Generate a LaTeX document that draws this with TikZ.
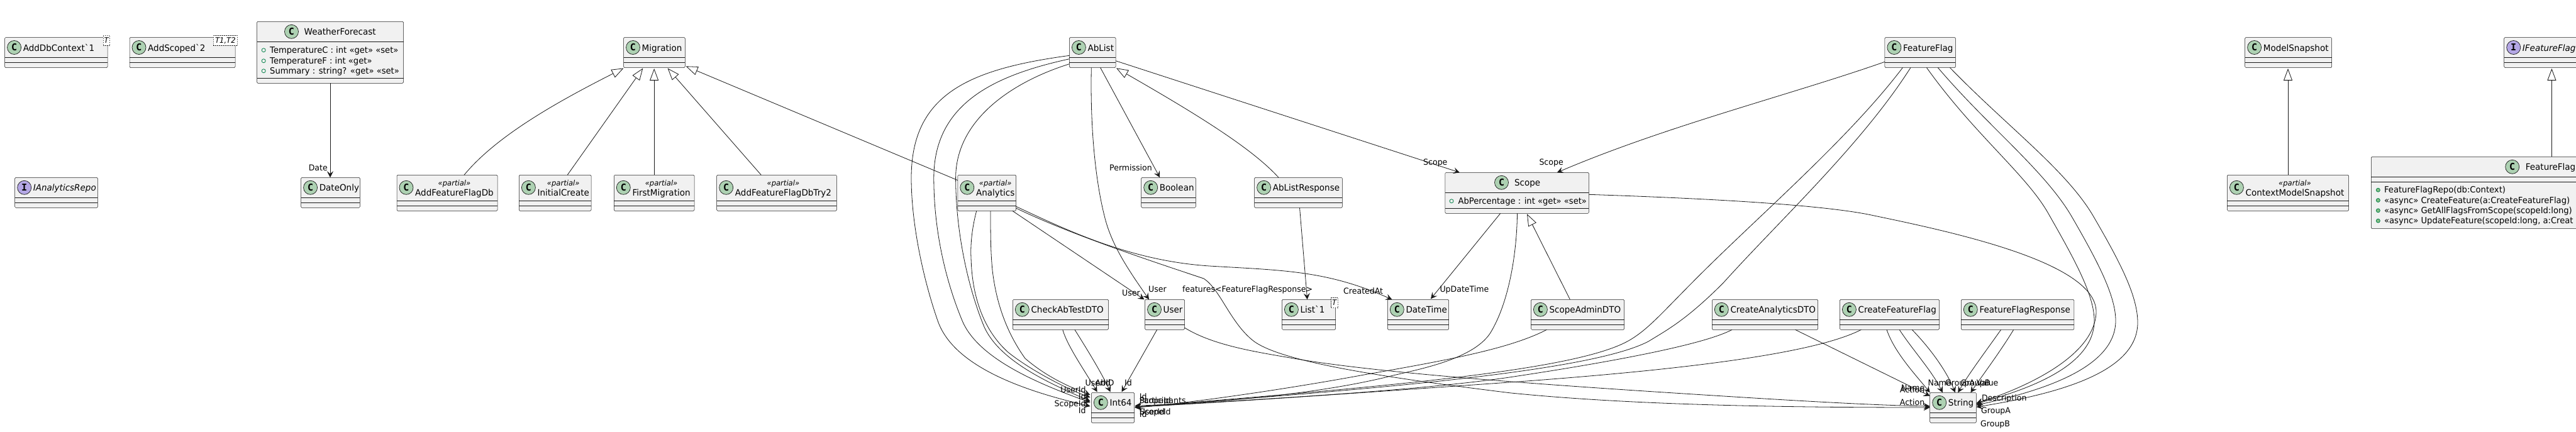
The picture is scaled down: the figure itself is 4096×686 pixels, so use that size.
\documentclass[tikz,border=0pt]{standalone}
\usepackage{fontspec}
\setmainfont{DejaVu Sans}[Ligatures=TeXOff,FakeStretch=0.965]
\newfontfamily\iconfont{DejaVu Sans Mono}
\usetikzlibrary{arrows.meta}
\definecolor{boxfill}{HTML}{F1F1F1}
\definecolor{inkline}{HTML}{181818}
\definecolor{iconclass}{HTML}{ADD1B2}
\definecolor{iconiface}{HTML}{B4A7E5}
\definecolor{markline}{HTML}{038048}
\definecolor{markfill}{HTML}{84BE84}
\tikzset{
  classbody/.style={rectangle, draw=inkline, fill=boxfill, line width=0.5pt, rounded corners=1.5pt, inner sep=0pt, outer sep=0pt},
  classsep/.style={draw=inkline, line width=0.5pt},
  classicon/.style={circle, draw=inkline, fill=iconclass, line width=0.7pt, minimum size=22pt, inner sep=0pt, font=\iconfont\bfseries\fontsize{15}{15}\selectfont},
  ifaceicon/.style={classicon, fill=iconiface},
  classtitle/.style={anchor=base west, inner sep=0pt, font=\fontsize{14}{16}\selectfont},
  stereo/.style={anchor=base, inner sep=0pt, font=\itshape\fontsize{12}{14}\selectfont},
  tagbox/.style={rectangle, draw=inkline, fill=white, line width=0.5pt, dash pattern=on 1.5pt off 1.5pt, inner sep=0pt, font=\itshape\fontsize{12}{14}\selectfont},
  fieldmark/.style={circle, draw=markline, line width=0.8pt, minimum size=6pt, inner sep=0pt},
  methodmark/.style={fieldmark, fill=markfill},
  membertext/.style={anchor=base west, inner sep=0pt, font=\fontsize{13.6}{16}\selectfont},
  edgelabel/.style={inner sep=0pt, text height=10pt, text depth=3pt, font=\fontsize{13}{15}\selectfont},
  rel/.style={draw=inkline, line width=0.8pt, -{Stealth[length=10pt,width=10pt,inset=4pt]}},
  inherit/.style={draw=inkline, line width=0.8pt, -{Triangle[length=19pt,width=14pt,fill=white]}}
}
% id, left, top, right, bottom, first rule, second rule
\newcommand{\classbox}[7]{
  \node[classbody, minimum width={(#4-#2)*1pt}, minimum height={(#5-#3)*1pt}] (#1) at ({(#2+#4)/2},{(#3+#5)/2}) {};
  \draw[classsep] (#2,#6) -- (#4,#6);
  \draw[classsep] (#2,#7) -- (#4,#7);
}
% id, left, top, right, title
\newcommand{\plainclass}[5]{
  \classbox{#1}{#2}{#3}{#4}{#3+48}{#3+32}{#3+40}
  \node[classicon] (#1-icon) at ([shift={(15,16)}]#1.north west) {C};
  \node[classtitle] (#1-title) at ([shift={(29,21.5)}]#1.north west) {#5};
}
\newcommand{\ifaceclass}[5]{
  \classbox{#1}{#2}{#3}{#4}{#3+48}{#3+32}{#3+40}
  \node[ifaceicon] (#1-icon) at ([shift={(15,16)}]#1.north west) {I};
  \node[classtitle] (#1-title) at ([shift={(29,21.5)}]#1.north west) {\itshape #5};
}
\newcommand{\partialclass}[5]{
  \classbox{#1}{#2}{#3}{#4}{#3+57}{#3+41}{#3+49}
  \node[classicon] (#1-icon) at ([shift={(15,20)}]#1.north west) {C};
  \node[classtitle] (#1-title) at ([shift={(29,33)}]#1.north west) {#5};
  \node[stereo] (#1-stereo) at ([yshift=16pt]#1-title.base) {«partial»};
}
% style, id, owner, mark x, text x, baseline, text
\newcommand{\member}[7]{
  \node[#1] (#2-mark) at ([shift={(#4,#6-4.5)}]#3.north west) {};
  \node[membertext] (#2) at ([shift={(#5,#6)}]#3.north west) {#7};
}
% id, left, top, right, bottom, text
\newcommand{\typetag}[6]{
  \node[tagbox, minimum width={(#4-#2)*1pt}, minimum height={(#5-#3)*1pt}] (#1) at ({(#2+#4)/2},{(#3+#5)/2}) {#6};
}

\begin{document}
\begin{tikzpicture}[x=1pt,y=-1pt]
  \clip (0,0) rectangle (4096,686);

  % Top row
  \plainclass{AddDbContext}{7.6}{59.5}{171}{AddDbContext`1}
  \typetag{AddDbContext-tag}{164}{56.3}{174.5}{72.7}{T}
  \plainclass{AddScoped}{206}{59.5}{374}{AddScoped`2}
  \typetag{AddScoped-tag}{339}{56.3}{377.7}{72.7}{T1,T2}
  \plainclass{Migration}{991.5}{59.5}{1089.3}{Migration}
  \plainclass{AbList}{1700.4}{59.5}{1774}{AbList}
  \plainclass{FeatureFlag}{2996.9}{59.5}{3109.4}{FeatureFlag}
  \plainclass{ModelSnapshot}{3569.6}{59.5}{3707.6}{ModelSnapshot}
  \ifaceclass{IFeatureFlag}{3981.7}{59.5}{4133.1}{IFeatureFlag}

  % Boxes with members
  \classbox{WeatherForecast}{408.5}{34.3}{641.5}{132.3}{66.3}{124.3}
  \node[classicon] (WeatherForecast-icon) at ([shift={(55,16)}]WeatherForecast.north west) {C};
  \node[classtitle] (WeatherForecast-title) at ([shift={(75,21.5)}]WeatherForecast.north west) {WeatherForecast};
  \member{fieldmark}{wf-c}{WeatherForecast}{10.7}{20.5}{50}{TemperatureC : int «get» «set»}
  \member{fieldmark}{wf-f}{WeatherForecast}{10.7}{20.5}{67}{TemperatureF : int «get»}
  \member{fieldmark}{wf-s}{WeatherForecast}{10.7}{20.5}{83}{Summary : string? «get» «set»}

  \classbox{Scope}{2297.8}{274.3}{2526.3}{339.3}{306.3}{331.3}
  \node[classicon] (Scope-icon) at ([shift={(89.7,16)}]Scope.north west) {C};
  \node[classtitle] (Scope-title) at ([shift={(110,21.5)}]Scope.north west) {Scope};
  \member{fieldmark}{scope-ab}{Scope}{10.2}{20.5}{50}{AbPercentage : int «get» «set»}

  \classbox{FeatureFlagRepo}{3770.3}{249.3}{4344.5}{363.6}{281.3}{289.3}
  \node[classicon] (FeatureFlagRepo-icon) at ([shift={(224.4,16)}]FeatureFlagRepo.north west) {C};
  \node[classtitle] (FeatureFlagRepo-title) at ([shift={(245.3,21.5)}]FeatureFlagRepo.north west) {FeatureFlag};
  \member{methodmark}{repo-new}{FeatureFlagRepo}{11}{20.6}{57.4}{FeatureFlagRepo(db:Context)}
  \member{methodmark}{repo-create}{FeatureFlagRepo}{11}{20.6}{73.7}{«async» CreateFeature(a:CreateFeatureFlag)}
  \member{methodmark}{repo-all}{FeatureFlagRepo}{11}{20.6}{90}{«async» GetAllFlagsFromScope(scopeId:long)}
  \member{methodmark}{repo-update}{FeatureFlagRepo}{11}{20.6}{106.3}{«async» UpdateFeature(scopeId:long, a:Creat}

  % Second row
  \ifaceclass{IAnalyticsRepo}{23.7}{282.3}{155.4}{IAnalyticsRepo}
  \plainclass{DateOnly}{478.6}{282.3}{572.3}{DateOnly}
  \partialclass{AddFeatureFlagDb}{631}{278.3}{791}{AddFeatureFlagDb}
  \partialclass{InitialCreate}{825.4}{278.3}{940}{InitialCreate}
  \partialclass{FirstMigration}{976.3}{278.3}{1104}{FirstMigration}
  \partialclass{AddFeatureFlagDbTry}{1139.7}{278.3}{1330.4}{AddFeatureFlagDbTry2}
  \partialclass{Analytics}{1522.8}{278.3}{1615.6}{Analytics}
  \plainclass{Boolean}{1814.7}{282.3}{1901.3}{Boolean}
  \plainclass{AbListResponse}{1994.6}{282.3}{2134.4}{AbListResponse}
  \partialclass{ContextModelSnapshot}{3541.4}{278.3}{3734.6}{ContextModelSnapshot}

  % Third row
  \plainclass{CheckAbTestDTO}{1610.3}{476.3}{1762.5}{CheckAbTestDTO}
  \plainclass{User}{1820.5}{476.3}{1883.5}{User}
  \plainclass{List}{2038.4}{476.3}{2123.7}{List`1}
  \typetag{List-tag}{2116.5}{473.3}{2126.8}{489.7}{T}
  \plainclass{DateTime}{2206.3}{476.3}{2303.6}{DateTime}
  \plainclass{ScopeAdminDTO}{2434.4}{476.3}{2582.6}{ScopeAdminDTO}
  \plainclass{CreateAnalyticsDTO}{2722.3}{476.3}{2890.6}{CreateAnalyticsDTO}
  \plainclass{CreateFeatureFlag}{2925.4}{476.3}{3083.5}{CreateFeatureFlag}
  \plainclass{FeatureFlagResponse}{3118.3}{476.3}{3297.8}{FeatureFlagResponse}

  % Bottom row
  \plainclass{Int}{1735.3}{624.3}{1803.6}{Int64}
  \plainclass{String}{3068.7}{624.3}{3142.4}{String}

  % Inheritance
  \draw[inherit] ([xshift=107pt]AddFeatureFlagDb.north west) .. controls (790,215) and (890,160) .. ([yshift=-1pt]Migration.south west);
  \draw[inherit] ([xshift=76.8pt]InitialCreate.north west) -- ([shift={(30.8,49)}]Migration.north west);
  \draw[inherit] (FirstMigration.north) -- ([yshift=-1.5pt]FirstMigration.north |- Migration.south);
  \draw[inherit] ([xshift=70.6pt]AddFeatureFlagDbTry.north west) -- ([shift={(70.1,49)}]Migration.north west);
  \draw[inherit] ([shift={(0,8.4)}]Analytics.north west) -- ([shift={(99.1,45.8)}]Migration.north west);
  \draw[inherit] ([xshift=38.4pt]AbListResponse.north west) .. controls (1990,235) and (1900,180) .. ([shift={(74.6,48.8)}]AbList.north west);
  \draw[inherit] ([xshift=62pt]ScopeAdminDTO.north west) -- ([shift={(130.2,66)}]Scope.north west);
  \draw[inherit] (ContextModelSnapshot.north) -- ([yshift=-1.5pt]ContextModelSnapshot.north |- ModelSnapshot.south);
  \draw[inherit] (FeatureFlagRepo.north) -- ([yshift=-1.5pt]FeatureFlagRepo.north |- IFeatureFlag.south);

  % Simple references
  \draw[rel] (WeatherForecast.south) -- (WeatherForecast.south |- DateOnly.north);
  \draw[rel] ([shift={(49.2,48)}]AbList.north west) -- ([xshift=29.5pt]Boolean.north west);
  \draw[rel] ([shift={(73.6,37.2)}]AbList.north west) -- ([xshift=23.2pt]Scope.north west);
  \draw[rel] ([shift={(0,38.8)}]FeatureFlag.north west) .. controls (2850,150) and (2650,200) .. ([xshift=178.1pt]Scope.north west);
  \draw[rel] ([shift={(34.9,48)}]AbList.north west) .. controls (1733,220) and (1745,300) .. (1756,343) .. controls (1767,390) and (1795,430) .. ([xshift=6.5pt]User.north west);
  \draw[rel] ([shift={(87,57)}]Analytics.north west) -- ([xshift=-1pt]User.north west);
  \draw[rel] ([shift={(71.9,48)}]AbListResponse.north west) -- ([xshift=40.2pt]List.north west);
  \draw[rel] ([shift={(92.8,50)}]Analytics.north west) .. controls (1700,368) and (1800,415) .. (1923,423) .. controls (2040,430) and (2110,430) .. ([xshift=7.1pt]DateTime.north west);
  \draw[rel] ([shift={(87.9,65)}]Scope.north west) -- ([shift={(68.7,-1)}]DateTime.north west);

  % To Int64, from the left
  \draw[rel] ([shift={(0,28.8)}]AbList.north west) .. controls (1540,110) and (1449,150) .. (1449,283) .. controls (1449,360) and (1470,450) .. (1491,510) .. controls (1515,580) and (1620,620) .. ([shift={(-1.8,21.7)}]Int.north west);
  \draw[rel] ([shift={(0,34.2)}]AbList.north west) .. controls (1580,120) and (1484.8,165) .. (1484.8,283) .. controls (1484.8,370) and (1505,450) .. (1530,510) .. controls (1555,570) and (1650,610) .. ([shift={(-1.8,15.7)}]Int.north west);
  \draw[rel] ([shift={(0,42.2)}]AbList.north west) .. controls (1610,130) and (1519.6,190) .. (1519.6,283) .. controls (1519.6,370) and (1540,460) .. (1565,520) .. controls (1590,575) and (1670,610) .. ([shift={(-1.8,13.7)}]Int.north west);
  \draw[rel] ([shift={(29.9,57)}]Analytics.north west) .. controls (1545,365) and (1543,390) .. (1544,410) .. controls (1546,490) and (1575,535) .. (1602.7,560) .. controls (1640,590) and (1700,620) .. ([shift={(-1.8,7.7)}]Int.north west);
  \draw[rel] ([shift={(52.2,57)}]Analytics.north west) .. controls (1575,370) and (1575,400) .. (1578,430) .. controls (1585,490) and (1605,535) .. (1630,570) .. controls (1665,600) and (1700,615) .. ([shift={(-1.8,3.7)}]Int.north west);

  % To Int64, from above
  \draw[rel] ([shift={(79.4,48)}]CheckAbTestDTO.north west) .. controls (1697,550) and (1725,590) .. ([shift={(9.3,-1)}]Int.north west);
  \draw[rel] ([shift={(98.6,48)}]CheckAbTestDTO.north west) .. controls (1725,550) and (1750,590) .. ([shift={(30.3,-1)}]Int.north west);
  \draw[rel] ([shift={(19.2,48)}]User.north west) -- ([shift={(48.2,-1)}]Int.north west);

  % To Int64, from the right
  \draw[rel] ([shift={(114.7,65)}]Scope.north west) .. controls (2412,400) and (2400,480) .. (2369.6,529.7) .. controls (2340,575) and (2240,590) .. (2204.5,599.7) .. controls (2100,625) and (1950,640) .. ([shift={(1,21)}]Int.north east);
  \draw[rel] ([shift={(25,48)}]ScopeAdminDTO.north west) .. controls (2400,555) and (2300,573) .. (2169,596) .. controls (2050,618) and (1900,640) .. ([shift={(1,24)}]Int.north east);
  \draw[rel] ([shift={(28.5,48)}]FeatureFlag.north west) .. controls (2940,220) and (2800,340) .. (2700,440) .. controls (2640,500) and (2620,525) .. (2587.5,543) .. controls (2500,590) and (2200,615) .. ([shift={(1,23)}]Int.north east);
  \draw[rel] ([shift={(41.1,48)}]FeatureFlag.north west) .. controls (2960,230) and (2830,350) .. (2740,450) .. controls (2680,510) and (2650,525) .. (2621,543) .. controls (2530,590) and (2200,618) .. ([shift={(1,23)}]Int.north east);
  \draw[rel] ([shift={(31.7,48)}]CreateAnalyticsDTO.north west) .. controls (2700,553) and (2500,585) .. (2400,600) .. controls (2250,622) and (2000,635) .. ([shift={(1,23)}]Int.north east);
  \draw[rel] ([shift={(34,48)}]CreateFeatureFlag.north west) .. controls (2880,565) and (2650,590) .. (2400,608) .. controls (2200,622) and (1980,638) .. ([shift={(1,23)}]Int.north east);

  % To String, from the left
  \draw[rel] ([shift={(92.8,52.7)}]Analytics.north west) .. controls (1700,372) and (1830,415) .. (1914,443) .. controls (1940,460) and (1955,510) .. (1990,539.7) .. controls (2030,575) and (2200,600) .. (2400,624.7) .. controls (2600,645) and (2850,648) .. ([yshift=-23.7pt]String.north west);
  \draw[rel] ([shift={(63,44.8)}]User.north west) .. controls (1930,550) and (2000,560) .. (2057,570) .. controls (2200,595) and (2500,615) .. (2757,631) .. controls (2900,640) and (3000,645) .. ([yshift=-21.7pt]String.north west);
  \draw[rel] ([shift={(132.2,48)}]CreateAnalyticsDTO.north west) -- ([yshift=-5.4pt]String.north west);

  % To String, from above
  \draw[rel] ([shift={(74.6,48)}]CreateFeatureFlag.north west) .. controls (3012,560) and (3045,595) .. (String.north west);
  \draw[rel] ([shift={(94.8,48)}]CreateFeatureFlag.north west) .. controls (3040,555) and (3072,590) .. ([xshift=20.1pt]String.north west);
  \draw[rel] ([shift={(114.9,48)}]CreateFeatureFlag.north west) .. controls (3070,555) and (3095,590) .. ([xshift=40.2pt]String.north west);
  \draw[rel] ([shift={(63.3,48)}]FeatureFlagResponse.north west) .. controls (3160,555) and (3130,595) .. ([xshift=44.6pt]String.north west);
  \draw[rel] ([shift={(83.4,48)}]FeatureFlagResponse.north west) .. controls (3180,560) and (3150,600) .. ([xshift=64.7pt]String.north west);

  % To String, from the right
  \draw[rel] ([shift={(66.5,48)}]FeatureFlag.north west) .. controls (3140,215) and (3225,280) .. (3258.9,343) .. controls (3300,415) and (3330,470) .. (3330,510) .. controls (3330,590) and (3200,625) .. ([yshift=-18pt]String.north east);
  \draw[rel] ([shift={(84.4,48)}]FeatureFlag.north west) .. controls (3160,200) and (3250,270) .. (3293.3,343) .. controls (3335,415) and (3364,470) .. (3364,510) .. controls (3364,590) and (3230,625) .. ([yshift=-20pt]String.north east);
  \draw[rel] ([shift={(103.5,48)}]FeatureFlag.north west) .. controls (3190,200) and (3285,270) .. (3328,343) .. controls (3370,415) and (3399,470) .. (3399,513) .. controls (3399,590) and (3280,625) .. ([yshift=-23pt]String.north east);
  \draw[rel] ([shift={(228.5,35)}]Scope.north west) .. controls (2700,315) and (2900,325) .. (2980,343) .. controls (3120,372) and (3335,420) .. (3333,497) .. controls (3330,570) and (3210,620) .. ([yshift=-17pt]String.north east);

  % Labels
  \node[edgelabel, anchor=east] (lbl-date) at (521,267.7) {Date};
  \node[edgelabel, anchor=east] (lbl-permission) at (1832,267.7) {Permission};
  \node[edgelabel, anchor=west] (lbl-scope-a) at (2263,259.3) {Scope};
  \node[edgelabel, anchor=west] (lbl-scope-b) at (2447.3,259.3) {Scope};
  \node[edgelabel, anchor=west] (lbl-user-a) at (1784,467) {User};
  \node[edgelabel, anchor=west] (lbl-user-b) at (1826,461.3) {User};
  \node[edgelabel, anchor=west] (lbl-features) at (1880,461.3) {features<FeatureFlagResponse>};
  \node[edgelabel, anchor=west] (lbl-created) at (2136,463.7) {CreatedAt};
  \node[edgelabel, anchor=west] (lbl-updated) at (2289.3,461.3) {UpDateTime};

  % Labels round Int64
  \node[edgelabel, anchor=east] (lbl-i1) at (1726.8,621.3) {UserId};
  \node[edgelabel, anchor=east] (lbl-i2) at (1726.8,632.3) {Id};
  \node[edgelabel, anchor=east] (lbl-i3) at (1726.8,643) {ScopeId};
  \node[edgelabel, anchor=east] (lbl-i4) at (1726.8,653.7) {Id};
  \node[edgelabel, anchor=west] (lbl-i5) at (1725.4,609.7) {UserId};
  \node[edgelabel, anchor=west] (lbl-i6) at (1741.5,609.7) {AbID};
  \node[edgelabel, anchor=west] (lbl-i7) at (1788,609.7) {Id};
  \node[edgelabel, anchor=west] (lbl-i8) at (1811.6,632.3) {Id};
  \node[edgelabel, anchor=west] (lbl-i9) at (1811.6,638) {ScopeId};
  \node[edgelabel, anchor=west] (lbl-i10) at (1811.6,638) {Participants};
  \node[edgelabel, anchor=west] (lbl-i11) at (1811.6,655.7) {ScopeId};
  \node[edgelabel, anchor=west] (lbl-i12) at (1811.6,655.7) {UserId};
  \node[edgelabel, anchor=west] (lbl-i13) at (1811.6,660) {Id};

  % Labels round String
  \node[edgelabel, anchor=east] (lbl-s1) at (3060.4,617.5) {Name};
  \node[edgelabel, anchor=east] (lbl-s2) at (3060.4,620.8) {Action};
  \node[edgelabel, anchor=east] (lbl-s3) at (3060.4,641) {Action};
  \node[edgelabel, anchor=west] (lbl-s4) at (3065.4,610) {Name};
  \node[edgelabel, anchor=west] (lbl-s5) at (3092.9,610) {GroupA};
  \node[edgelabel, anchor=west] (lbl-s6) at (3117.3,610) {GroupB};
  \node[edgelabel, anchor=east] (lbl-s7) at (3177.6,610) {Value};
  \node[edgelabel, anchor=west] (lbl-s8) at (3150.8,634) {Description};
  \node[edgelabel, anchor=west] (lbl-s9) at (3150,654.3) {GroupA};
  \node[edgelabel, anchor=west] (lbl-s10) at (3149,675.4) {GroupB};
\end{tikzpicture}
\end{document}
